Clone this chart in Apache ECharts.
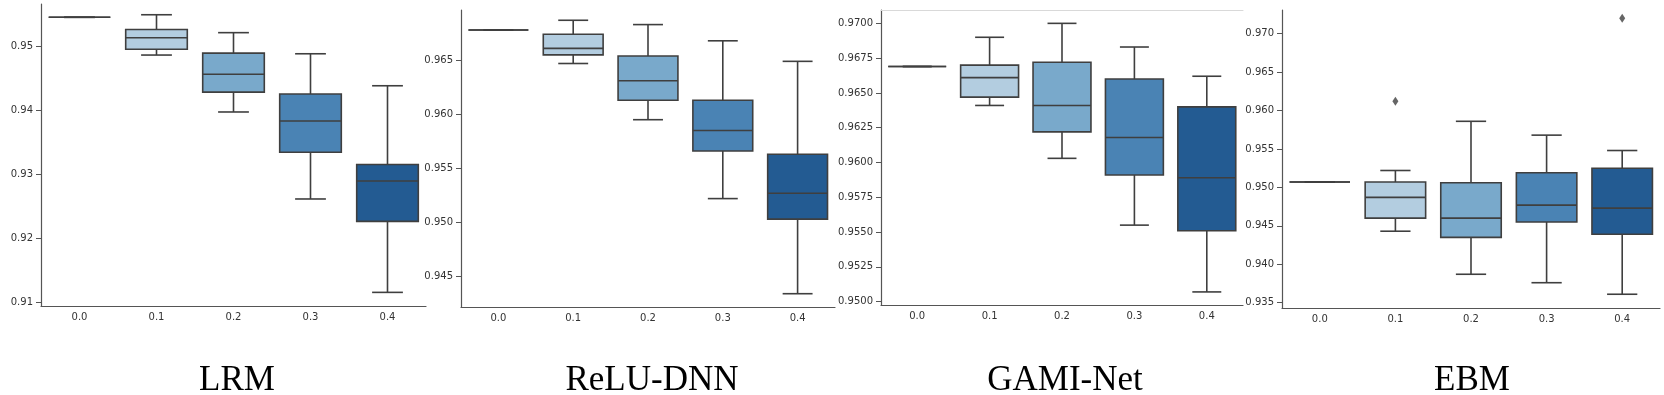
<!DOCTYPE html>
<html>
<head>
<meta charset="utf-8">
<script src="https://cdn.jsdelivr.net/npm/echarts@6/dist/echarts.min.js"></script>
<style>
  html, body { margin: 0; padding: 0; background: #fff; }
  #main { width: 1664px; height: 395px; }
</style>
</head>
<body>
<div id="main"></div>
<script>
// noise levels on the x axis
var categories = ['0.0', '0.1', '0.2', '0.3', '0.4'];

// each row: [lower whisker, Q1, median, Q3, upper whisker]
var lrmBoxes = [
  [0.9545, 0.9545, 0.9545, 0.9545, 0.9545],
  [0.9486, 0.9495, 0.9513, 0.9526, 0.9549],
  [0.9397, 0.9428, 0.9456, 0.9489, 0.9521],
  [0.9261, 0.9334, 0.9383, 0.9425, 0.9488],
  [0.9115, 0.9226, 0.9289, 0.9315, 0.9438]
];
var reluBoxes = [
  [0.9678, 0.9678, 0.9678, 0.9678, 0.9678],
  [0.9647, 0.9655, 0.9661, 0.9674, 0.9687],
  [0.9595, 0.9613, 0.9631, 0.9654, 0.9683],
  [0.9522, 0.9566, 0.9585, 0.9613, 0.9668],
  [0.9434, 0.9503, 0.9527, 0.9563, 0.9649]
];
var gamiBoxes = [
  [0.9669, 0.9669, 0.9669, 0.9669, 0.9669],
  [0.9641, 0.9647, 0.9661, 0.9670, 0.9690],
  [0.9603, 0.9622, 0.9641, 0.9672, 0.9700],
  [0.9555, 0.9591, 0.9618, 0.9660, 0.9683],
  [0.9507, 0.9551, 0.9589, 0.9640, 0.9662]
];
var ebmBoxes = [
  [0.9507, 0.9507, 0.9507, 0.9507, 0.9507],
  [0.9443, 0.9460, 0.9487, 0.9507, 0.9522],
  [0.9387, 0.9435, 0.9460, 0.9506, 0.9586],
  [0.9376, 0.9455, 0.9477, 0.9519, 0.9568],
  [0.9361, 0.9439, 0.9473, 0.9525, 0.9548]
];
// outliers: [category index, value]
var ebmOutliers = [[1, 0.9612], [4, 0.9720]];

// y tick labels
var lrmTicks = [0.91, 0.92, 0.93, 0.94, 0.95];
var reluTicks = [0.945, 0.950, 0.955, 0.960, 0.965];
var gamiTicks = [0.9500, 0.9525, 0.9550, 0.9575, 0.9600, 0.9625, 0.9650, 0.9675, 0.9700];
var ebmTicks = [0.935, 0.940, 0.945, 0.950, 0.955, 0.960, 0.965, 0.970];

var titles = ['LRM', 'ReLU-DNN', 'GAMI-Net', 'EBM'];

var boxColors = ['#c9dcec', '#b3cde0', '#79a9cb', '#4a83b4', '#235b92'];
var lineColor = '#3f3f3f';

var panels = [
  { boxes: lrmBoxes, ticks: lrmTicks, dec: 2, min: 0.90937, max: 0.95658, left: 41, top: 4, width: 385, height: 302, center: 232, outliers: [] },
  { boxes: reluBoxes, ticks: reluTicks, dec: 3, min: 0.94217, max: 0.96965, left: 461, top: 10, width: 374, height: 297, center: 647, outliers: [] },
  { boxes: gamiBoxes, ticks: gamiTicks, dec: 4, min: 0.94976, max: 0.97096, left: 881, top: 10, width: 362, height: 295, center: 1060, outliers: [], topLine: true },
  { boxes: ebmBoxes, ticks: ebmTicks, dec: 3, min: 0.93431, max: 0.97308, left: 1282, top: 10, width: 378, height: 298, center: 1467, outliers: ebmOutliers }
];

function renderBox(params, api) {
  var i = api.value(0);
  var low = api.coord([i, api.value(1)]);
  var q1 = api.coord([i, api.value(2)]);
  var med = api.coord([i, api.value(3)]);
  var q3 = api.coord([i, api.value(4)]);
  var high = api.coord([i, api.value(5)]);
  var band = api.size([1, 0])[0];
  var bw = band * 0.8;
  var cw = bw * 0.5;
  var x = med[0];
  var st = { stroke: lineColor, lineWidth: 1.6 };
  return {
    type: 'group',
    children: [
      { type: 'line', shape: { x1: x, y1: q3[1], x2: x, y2: high[1] }, style: st },
      { type: 'line', shape: { x1: x, y1: q1[1], x2: x, y2: low[1] }, style: st },
      { type: 'line', shape: { x1: x - cw / 2, y1: high[1], x2: x + cw / 2, y2: high[1] }, style: st },
      { type: 'line', shape: { x1: x - cw / 2, y1: low[1], x2: x + cw / 2, y2: low[1] }, style: st },
      { type: 'rect', shape: { x: x - bw / 2, y: q3[1], width: bw, height: q1[1] - q3[1] },
        style: { fill: boxColors[i], stroke: lineColor, lineWidth: 1.6 } },
      { type: 'line', shape: { x1: x - bw / 2, y1: med[1], x2: x + bw / 2, y2: med[1] }, style: st }
    ]
  };
}

var option = {
  animation: false,
  backgroundColor: '#fff',
  title: [],
  grid: [],
  xAxis: [],
  yAxis: [],
  series: []
};

panels.forEach(function (p, k) {
  option.grid.push({ left: p.left, top: p.top, width: p.width, height: p.height });
  option.xAxis.push({
    type: 'category',
    gridIndex: k,
    data: categories,
    boundaryGap: true,
    axisLine: { lineStyle: { color: '#555', width: 1.2 } },
    axisTick: { alignWithLabel: true, length: 4, lineStyle: { color: '#555' } },
    axisLabel: { margin: 6, fontFamily: 'DejaVu Sans', fontSize: 10, color: '#333' },
    splitLine: { show: false }
  });
  option.yAxis.push({
    type: 'value',
    gridIndex: k,
    min: p.min,
    max: p.max,
    axisLine: { show: true, lineStyle: { color: '#555', width: 1.2 } },
    axisTick: { show: true, length: 5, customValues: p.ticks, lineStyle: { color: '#555' } },
    axisLabel: {
      margin: 8, fontFamily: 'DejaVu Sans', fontSize: 10, color: '#333',
      customValues: p.ticks,
      formatter: (function (d) { return function (v) { return v.toFixed(d); }; })(p.dec)
    },
    splitLine: { show: false }
  });
  option.title.push({
    text: titles[k],
    left: p.center,
    top: 358,
    textAlign: 'center',
    textStyle: { fontFamily: 'Liberation Serif', fontWeight: 'normal', fontSize: 35, color: '#000' }
  });
  option.series.push({
    type: 'custom',
    xAxisIndex: k,
    yAxisIndex: k,
    renderItem: renderBox,
    encode: { x: 0, y: [1, 2, 3, 4, 5] },
    data: p.boxes.map(function (b, i) { return [i].concat(b); })
  });
  if (p.outliers.length) {
    option.series.push({
      type: 'scatter',
      xAxisIndex: k,
      yAxisIndex: k,
      symbol: 'diamond',
      symbolSize: [6, 9],
      itemStyle: { color: lineColor },
      data: p.outliers
    });
  }
});

// GAMI-Net panel has a faint top border
option.xAxis.push({
  type: 'category',
  gridIndex: 2,
  position: 'top',
  data: categories,
  axisLine: { lineStyle: { color: '#d9d9d9', width: 1 } },
  axisTick: { show: false },
  axisLabel: { show: false }
});

var myChart = echarts.init(document.getElementById('main'));
myChart.setOption(option);
</script>
</body>
</html>
